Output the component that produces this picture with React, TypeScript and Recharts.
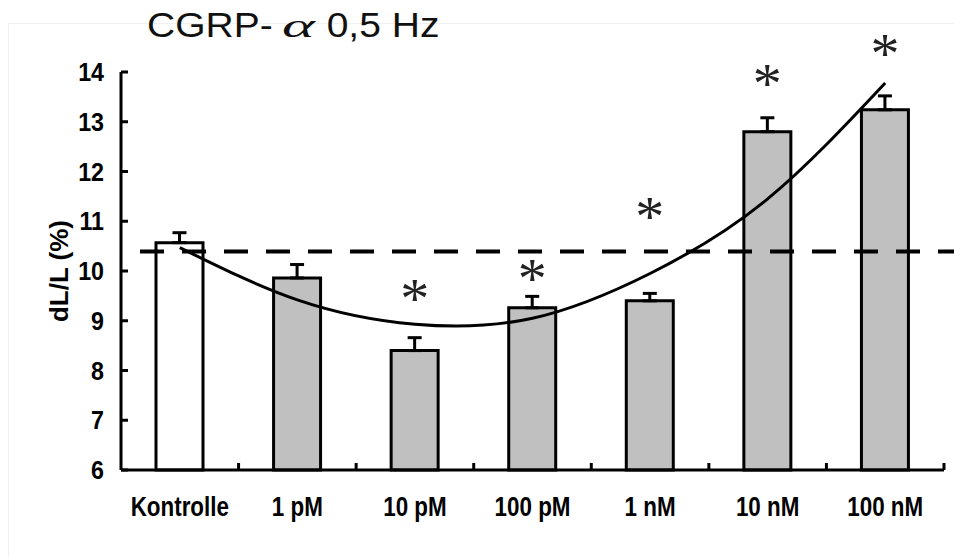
import {
  ComposedChart,
  Bar,
  Cell,
  Line,
  XAxis,
  YAxis,
  ErrorBar,
  ReferenceLine,
  LabelList,
  Label,
} from 'recharts'

const categories = ['Kontrolle', '1 pM', '10 pM', '100 pM', '1 nM', '10 nM', '100 nM']
const means = [10.57, 9.86, 8.4, 9.26, 9.4, 12.8, 13.24]
const sem = [0.2, 0.27, 0.26, 0.23, 0.15, 0.28, 0.28]
const fitCurve = [10.47, 9.42, 8.93, 9.05, 9.95, 11.45, 13.78]
const stars = [null, null, 9.62, 10.02, 11.27, 13.94, 14.54]
const controlLevel = 10.39
const yTicks = [6, 7, 8, 9, 10, 11, 12, 13, 14]
const barColors = ['#ffffff', '#c0c0c0', '#c0c0c0', '#c0c0c0', '#c0c0c0', '#c0c0c0', '#c0c0c0']

const W = 954
const H = 557
const M = { top: 72, right: 10, bottom: 37, left: 0 }
const Y_AXIS_W = 121
const X_AXIS_H = 50
const band = (W - M.left - M.right - Y_AXIS_W) / categories.length

const rows = categories.map((name, i) => ({
  name,
  mean: means[i],
  err: [0, sem[i]],
  fit: fitCurve[i],
  star: stars[i],
}))

const font = "'Liberation Sans', Arial, sans-serif"

function YTick(props: any) {
  const { x, y, payload } = props
  return (
    <g>
      <line x1={x} x2={x + 7} y1={y} y2={y} stroke="#000" strokeWidth={3} />
      <text
        transform={`translate(${x - 17},${y}) scale(0.93,1)`}
        dy="0.36em"
        textAnchor="end"
        fontFamily={font}
        fontWeight="bold"
        fontSize={25}
        fill="#000"
      >
        {payload.value}
      </text>
    </g>
  )
}

function XTick(props: any) {
  const { x, y, payload, index } = props
  const last = index === categories.length - 1
  return (
    <g>
      {index > 0 && (
        <line x1={x - band / 2} x2={x - band / 2} y1={y} y2={y - 7} stroke="#000" strokeWidth={3} />
      )}
      {last && (
        <line x1={x + band / 2} x2={x + band / 2} y1={y} y2={y - 7} stroke="#000" strokeWidth={3} />
      )}
      <text
        transform={`translate(${x},${y + 46}) scale(0.8,1)`}
        textAnchor="middle"
        fontFamily={font}
        fontWeight="bold"
        fontSize={28}
        fill="#000"
      >
        {payload.value}
      </text>
    </g>
  )
}

function YLabel(props: any) {
  const vb = props.viewBox
  const cx = vb.x + 68
  const cy = vb.y + vb.height / 2
  return (
    <text
      x={cx}
      y={cy}
      transform={`rotate(-90,${cx},${cy})`}
      textAnchor="middle"
      fontFamily={font}
      fontWeight="bold"
      fontSize={26}
      fill="#000"
    >
      dL/L (%)
    </text>
  )
}

// asterisk above each bar, placed with the bar's own px per unit
function Star(props: any) {
  const { index } = props
  const vb = props.viewBox ?? props
  const s = stars[index]
  if (s == null) return null
  const ppu = Math.abs(vb.height) / (means[index] - 6)
  const top = Math.min(vb.y, vb.y + vb.height)
  const cy = top - (s - means[index]) * ppu
  return (
    <text
      x={vb.x + vb.width / 2}
      y={cy}
      dy="0.48em"
      textAnchor="middle"
      fontFamily="'Liberation Serif', serif"
      fontSize={58}
      fill="#222"
    >
      *
    </text>
  )
}

function DashedLine(props: any) {
  const { x1, x2, y1 } = props
  return (
    <line
      x1={x1 + 19}
      x2={x2 + 12}
      y1={y1}
      y2={y1}
      stroke="#000"
      strokeWidth={4}
      strokeDasharray="24 18"
    />
  )
}

export default function App() {
  return (
    <div style={{ position: 'absolute', left: 0, top: 0, width: W, height: H, background: '#fff' }}>
      <div
        style={{
          position: 'absolute',
          left: 8,
          top: 23,
          right: 0,
          bottom: 0,
          borderTop: '1px solid #f0f0f0',
          borderLeft: '1px solid #f0f0f0',
        }}
      />
      <ComposedChart
        width={W}
        height={H}
        data={rows}
        margin={M}
        barSize={47}
        style={{ position: 'absolute', left: 0, top: 0 }}
      >
        <XAxis
          dataKey="name"
          height={X_AXIS_H}
          axisLine={{ stroke: '#000', strokeWidth: 3 }}
          tickLine={false}
          tickSize={0}
          tickMargin={0}
          tick={<XTick />}
          interval={0}
        />
        <YAxis
          width={Y_AXIS_W}
          domain={[6, 14]}
          ticks={yTicks}
          axisLine={{ stroke: '#000', strokeWidth: 3 }}
          tickLine={false}
          tickSize={0}
          tickMargin={0}
          tick={<YTick />}
          interval={0}
        >
          <Label content={<YLabel />} />
        </YAxis>
        <Bar dataKey="mean" stroke="#000" strokeWidth={3} isAnimationActive={false}>
          {rows.map((r, i) => (
            <Cell key={r.name} fill={barColors[i]} />
          ))}
          <ErrorBar dataKey="err" direction="y" width={7} stroke="#000" strokeWidth={3} />
          <LabelList dataKey="star" content={<Star />} />
        </Bar>
        <ReferenceLine y={controlLevel} shape={<DashedLine />} ifOverflow="visible" />
        <Line
          dataKey="fit"
          type="natural"
          stroke="#000"
          strokeWidth={3}
          dot={false}
          activeDot={false}
          isAnimationActive={false}
        />
      </ComposedChart>
      <div
        style={{
          position: 'absolute',
          left: 147,
          top: 8,
          fontFamily: font,
          fontSize: 39,
          lineHeight: '39px',
          color: '#111',
          whiteSpace: 'nowrap',
          transform: 'scale(1, 0.88)',
          transformOrigin: 'left top',
        }}
      >
        CGRP-
        <span
          style={{
            display: 'inline-block',
            width: 36,
            margin: '0 9px 0 9px',
            fontFamily: "'Liberation Serif', serif",
            fontStyle: 'italic',
            transform: 'scaleX(1.6)',
            transformOrigin: 'left',
          }}
        >
          α
        </span>
        0,5 Hz
      </div>
    </div>
  )
}
